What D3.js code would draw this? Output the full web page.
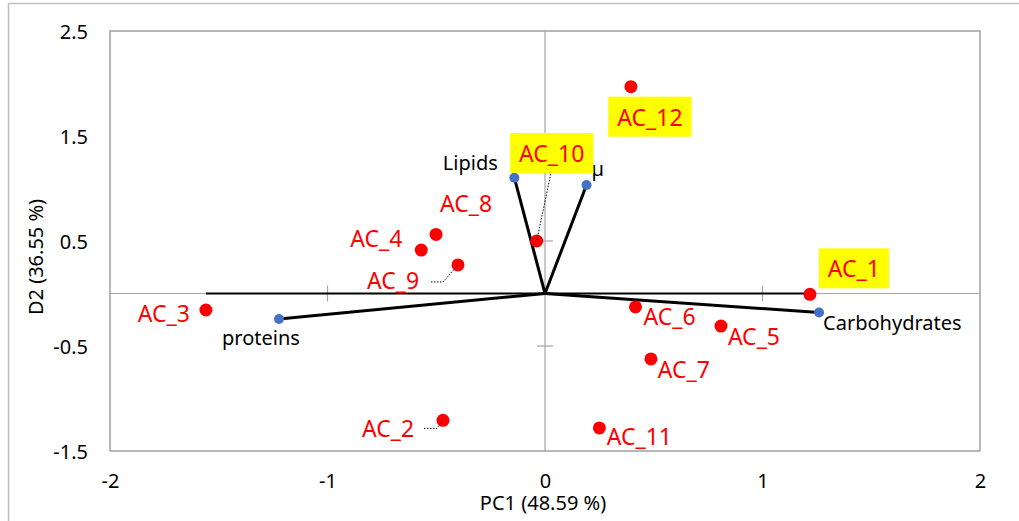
<!DOCTYPE html>
<html>
<head>
<meta charset="utf-8">
<script src="https://cdn.jsdelivr.net/npm/d3@7"></script>
<style>
  body { margin: 0; background: #fff; }
  text { font-family: "Noto Sans", "Open Sans", sans-serif; }
</style>
</head>
<body>
<div id="chart"></div>
<script>
// individuals (PCA scores)
var sampleNames = ['AC_1', 'AC_2', 'AC_3', 'AC_4', 'AC_5', 'AC_6', 'AC_7', 'AC_8', 'AC_9', 'AC_10', 'AC_11', 'AC_12'];
var pc1Scores = [1.218, -0.469, -1.559, -0.569, 0.809, 0.416, 0.487, -0.501, -0.400, -0.038, 0.250, 0.395];
var d2Scores = [-0.008, -1.208, -0.157, 0.414, -0.310, -0.128, -0.623, 0.563, 0.272, 0.500, -1.280, 1.970];
var highlighted = ['AC_1', 'AC_10', 'AC_12'];

// variables (loadings)
var varNames = ['\u00b5', 'Lipids', 'proteins', 'Carbohydrates'];
var varPC1 = [0.191, -0.141, -1.223, 1.260];
var varD2 = [1.033, 1.103, -0.243, -0.181];

// black reference segment along y = 0
var refLineX = [-1.559, 1.218];

var xTicks = [-2, -1, 0, 1, 2];
var yTicks = [2.5, 1.5, 0.5, -0.5, -1.5];

// label placement (pixel offsets from the point: centre x, baseline y)
var sampleLabelPos = {
  AC_1: [44, -17], AC_2: [-55, 17], AC_3: [-42, 12], AC_4: [-45, -3],
  AC_5: [33, 19], AC_6: [34, 18], AC_7: [33, 19], AC_8: [30, -22],
  AC_9: [-65, 24], AC_10: [15, -79], AC_11: [40, 17], AC_12: [19, 39]
};
// dotted leader lines, pixel offsets from the point
var leaders = {
  AC_9: [[-27, 17], [-15, 17], [0, 0]],
  AC_2: [[-19, 8], [-6, 8], [0, 0]],
  AC_10: [[14, -67], [0, 0]]
};
var varLabelPos = {
  '\u00b5': [5, -9, 'start'], 'Lipids': [-44, -8, 'middle'],
  'proteins': [-18, 26, 'middle'], 'Carbohydrates': [4, 17.5, 'start']
};

var W = 1019, H = 521;
var plotL = 110, plotR = 980, plotT = 31, plotB = 451;

var svg = d3.select('#chart').append('svg')
    .attr('width', W)
    .attr('height', H);

// outer chart frame
svg.append('rect')
    .attr('x', 8.5).attr('y', 3.5)
    .attr('width', W + 20).attr('height', H + 20)
    .attr('fill', 'none')
    .attr('stroke', '#bfbfbf')
    .attr('stroke-width', 1.5);

var x = d3.scaleLinear().domain([-2, 2]).range([plotL, plotR]);
var y = d3.scaleLinear().domain([-1.5, 2.5]).range([plotB, plotT]);

// plot area border
svg.append('rect')
    .attr('x', plotL).attr('y', plotT)
    .attr('width', plotR - plotL).attr('height', plotB - plotT)
    .attr('fill', 'none')
    .attr('stroke', '#a0a0a0')
    .attr('stroke-width', 1.5);

// axis lines through the origin
svg.append('line')
    .attr('x1', plotL).attr('x2', plotR)
    .attr('y1', y(0)).attr('y2', y(0))
    .attr('stroke', '#a6a6a6').attr('stroke-width', 1.2);
svg.append('line')
    .attr('x1', x(0)).attr('x2', x(0))
    .attr('y1', plotT).attr('y2', plotB)
    .attr('stroke', '#a6a6a6').attr('stroke-width', 1.2);

// cross tick marks
svg.selectAll('.xtick')
    .data(xTicks.filter(function(d) { return d !== 0 && Math.abs(d) < 2; }))
  .enter().append('line')
    .attr('x1', function(d) { return x(d); })
    .attr('x2', function(d) { return x(d); })
    .attr('y1', y(0) - 8).attr('y2', y(0) + 8)
    .attr('stroke', '#a6a6a6').attr('stroke-width', 1.2);
svg.selectAll('.ytick')
    .data(yTicks.filter(function(d) { return d > -1.5 && d < 2.5; }))
  .enter().append('line')
    .attr('x1', x(0) - 8).attr('x2', x(0) + 8)
    .attr('y1', function(d) { return y(d); })
    .attr('y2', function(d) { return y(d); })
    .attr('stroke', '#a6a6a6').attr('stroke-width', 1.2);

// tick labels (plain hyphen minus, like the original)
var xAxis = svg.append('g')
    .attr('transform', 'translate(0,' + plotB + ')')
    .call(d3.axisBottom(x).tickValues(xTicks).tickSize(0).tickPadding(0)
      .tickFormat(function(d) { return String(d); }));
xAxis.select('.domain').remove();
xAxis.selectAll('text')
    .attr('y', 37).attr('dy', null)
    .attr('font-size', 20).attr('fill', '#000')
    .style('font-family', '"Noto Sans", sans-serif');

var yAxis = svg.append('g')
    .attr('transform', 'translate(88,0)')
    .call(d3.axisLeft(y).tickValues(yTicks).tickSize(0).tickPadding(0)
      .tickFormat(function(d) { return d.toFixed(1); }));
yAxis.select('.domain').remove();
yAxis.selectAll('text')
    .attr('x', 0).attr('dy', '0.35em')
    .attr('font-size', 20).attr('fill', '#000')
    .style('font-family', '"Noto Sans", sans-serif');

// axis titles
svg.append('text')
    .attr('x', 543).attr('y', 510)
    .attr('text-anchor', 'middle')
    .attr('font-size', 20)
    .text('PC1 (48.59 %)');
svg.append('text')
    .attr('transform', 'translate(43,257) rotate(-90)')
    .attr('text-anchor', 'middle')
    .attr('font-size', 20)
    .text('D2 (36.55 %)');

// black segment on y = 0
svg.append('line')
    .attr('x1', x(refLineX[0])).attr('x2', x(refLineX[1]))
    .attr('y1', y(0)).attr('y2', y(0))
    .attr('stroke', '#000').attr('stroke-width', 2);

// loading vectors
var vars = varNames.map(function(n, i) { return {name: n, x: varPC1[i], y: varD2[i]}; });
svg.selectAll('.vec')
    .data(vars)
  .enter().append('line')
    .attr('x1', x(0)).attr('y1', y(0))
    .attr('x2', function(d) { return x(d.x); })
    .attr('y2', function(d) { return y(d.y); })
    .attr('stroke', '#000').attr('stroke-width', 3);
svg.selectAll('.vecpt')
    .data(vars)
  .enter().append('circle')
    .attr('cx', function(d) { return x(d.x); })
    .attr('cy', function(d) { return y(d.y); })
    .attr('r', 5)
    .attr('fill', '#4472c4');

// sample points
var samples = sampleNames.map(function(n, i) { return {name: n, x: pc1Scores[i], y: d2Scores[i]}; });
svg.selectAll('.pt')
    .data(samples)
  .enter().append('circle')
    .attr('cx', function(d) { return x(d.x); })
    .attr('cy', function(d) { return y(d.y); })
    .attr('r', 6.5)
    .attr('fill', '#ff0000');

// leader lines
samples.forEach(function(d) {
  var l = leaders[d.name];
  if (!l) return;
  var px = x(d.x), py = y(d.y);
  svg.append('path')
      .attr('d', d3.line()(l.map(function(p) { return [px + p[0], py + p[1]]; })))
      .attr('fill', 'none')
      .attr('stroke', '#000')
      .attr('stroke-width', 1)
      .attr('stroke-dasharray', '1.5,1.5');
});

// variable labels
vars.forEach(function(d) {
  var p = varLabelPos[d.name];
  svg.append('text')
      .attr('x', x(d.x) + p[0])
      .attr('y', y(d.y) + p[1])
      .attr('text-anchor', p[2])
      .attr('font-size', 20)
      .attr('fill', '#000')
      .text(d.name);
});

// sample labels (yellow box for highlighted ones)
samples.forEach(function(d) {
  var p = sampleLabelPos[d.name];
  var tx = x(d.x) + p[0], ty = y(d.y) + p[1];
  var g = svg.append('g');
  var t = g.append('text')
      .attr('x', tx).attr('y', ty)
      .attr('text-anchor', 'middle')
      .attr('font-size', 23)
      .attr('fill', '#ff0000')
      .text(d.name);
  if (highlighted.indexOf(d.name) >= 0) {
    var w = t.node().getComputedTextLength();
    g.insert('rect', 'text')
        .attr('x', tx - w / 2 - 9)
        .attr('y', ty - 29)
        .attr('width', w + 18)
        .attr('height', 40)
        .attr('fill', '#ffff00');
  }
});
</script>
</body>
</html>
